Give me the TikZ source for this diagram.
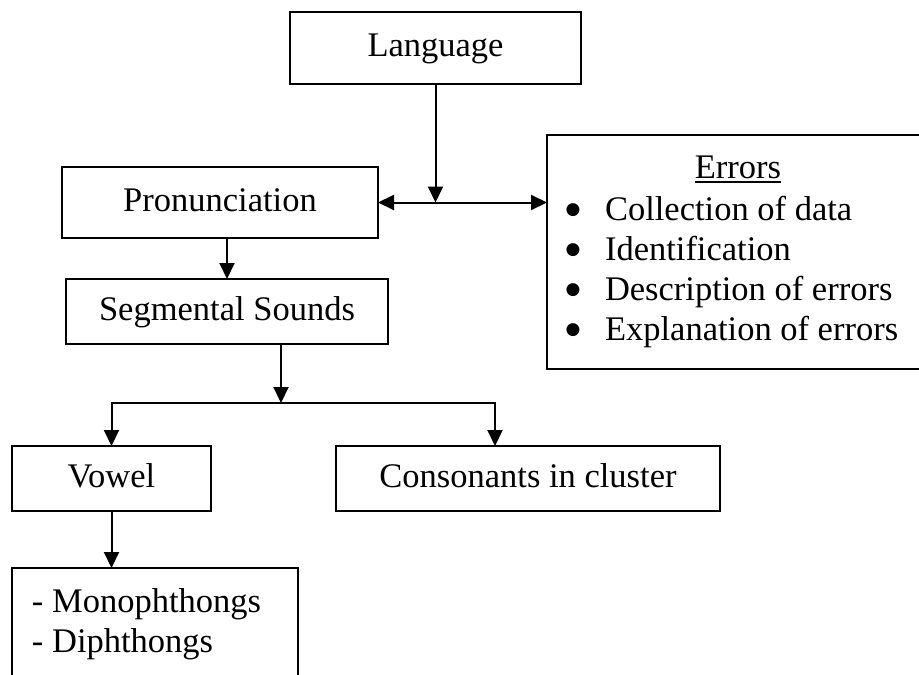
\documentclass[tikz,border=0pt]{standalone}
\usepackage{fontspec}
\setmainfont{Liberation Serif}
\newfontfamily\markfont{DejaVu Sans}
\usetikzlibrary{arrows.meta}
\begin{document}
\begin{tikzpicture}[x=0.5pt,y=-0.5pt,
  line width=1pt,
  every node/.style={font=\fontsize{17.25}{20.5}\selectfont, inner sep=0pt, outer sep=0pt},
  box/.style={draw, rectangle, text height=13pt, text depth=4.5pt},
  dot/.style={anchor=base, font=\markfont\fontsize{8.5}{9}\selectfont},
  link/.style={-{Triangle[length=8pt,width=7.5pt]}},
  both/.style={{Triangle[length=8pt,width=7.5pt]}-{Triangle[length=8pt,width=7.5pt]}}]
  \useasboundingbox (0,0) rectangle (919,674);
  \clip (0,0) rectangle (919,674);

  % boxes
  \node[box, minimum width=145.5pt, minimum height=36pt] (lang) at (435.5,48) {Language};
  \node[box, minimum width=158pt, minimum height=35.5pt] (pron) at (220,202.5) {Pronunciation};
  \node[draw, minimum width=196.5pt, minimum height=117pt] (errors) at (743.5,252) {};
  \node[box, minimum width=161pt, minimum height=32.5pt] (seg) at (227,311.5) {Segmental Sounds};
  \node[box, minimum width=99.5pt, minimum height=32.5pt] (vowel) at (111.5,478.5) {Vowel};
  \node[box, minimum width=192pt, minimum height=32.5pt] (cons) at (528,478.5) {Consonants in cluster};
  \node[draw, minimum width=143pt, minimum height=76pt] (mono) at (155,644) {};

  % contents of the error box
  \node[anchor=base] (errhead) at (738,178) {Errors};
  \draw[line width=0.8pt] ([yshift=-2pt]errhead.base west) -- ([yshift=-2pt]errhead.base east);
  \node[dot] (b1) at (573,214) {●};
  \node[dot] (b2) at (573,254) {●};
  \node[dot] (b3) at (573,294) {●};
  \node[dot] (b4) at (573,334) {●};
  \node[anchor=base west] (e1) at (605,220) {Collection of data};
  \node[anchor=base west] (e2) at (605,260) {Identification};
  \node[anchor=base west] (e3) at (605,300) {Description of errors};
  \node[anchor=base west] (e4) at (605,340) {Explanation of errors};

  % contents of the vowel-type box
  \node[anchor=base west] (m1) at (32,612) {- Monophthongs};
  \node[anchor=base west] (m2) at (32,652) {- Diphthongs};

  % connectors
  \coordinate (hub) at (lang.south |- pron.east);
  \draw[link] (lang.south) -- (hub);
  \draw[both] (pron.east) -- (pron.east -| errors.west);
  \draw[link] (seg.north |- pron.south) -- (seg.north);
  \coordinate (split) at (281,403);
  \coordinate (rbranch) at (495,403);
  \draw[link] (seg.south -| split) -- (split);
  \draw[link] (split) -- (vowel.north |- split) -- (vowel.north);
  \draw[link] (split) -- (rbranch) -- (rbranch |- cons.north);
  \draw[link] (vowel.south) -- (vowel.south |- mono.north);
\end{tikzpicture}
\end{document}
